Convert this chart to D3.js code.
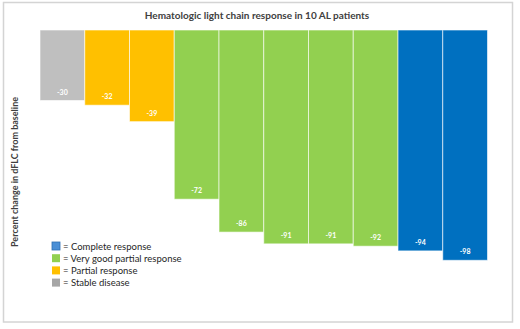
<!DOCTYPE html>
<html><head><meta charset="utf-8">
<script src="https://cdn.jsdelivr.net/npm/d3@7"></script>
<style>body{margin:0;background:#fff}svg{display:block}</style>
</head><body>
<script>
const patients = ["P1","P2","P3","P4","P5","P6","P7","P8","P9","P10"];
const values = [-30, -32, -39, -72, -86, -91, -91, -92, -94, -98];
const responses = ["SD","PR","PR","VGPR","VGPR","VGPR","VGPR","VGPR","CR","CR"];
const legendKeys = ["CR","VGPR","PR","SD"];
const legendLabels = ["= Complete response","= Very good partial response","= Partial response","= Stable disease"];
const barColors = {CR:"#0070c0", VGPR:"#92d050", PR:"#ffc000", SD:"#bfbfbf"};
const legendColors = {CR:"#4a8fd6", VGPR:"#92d050", PR:"#ffc000", SD:"#a6a6a6"};
const titleText = "Hematologic light chain response in 10 AL patients";
const yLabel = "Percent change in dFLC from baseline";

const W = 520, H = 329;
const svg = d3.select("body").append("svg").attr("width", W).attr("height", H);
const font = "Lato, 'Open Sans', sans-serif";

svg.append("rect").attr("x", 3.5).attr("y", 2.5).attr("width", 509).attr("height", 319.5)
  .attr("fill", "#fff").attr("stroke", "#d4d4d4").attr("stroke-width", 1.5);

const x = d3.scaleBand().domain(patients).range([40, 487.5]).paddingInner(0);
const y = d3.scaleLinear().domain([0, -100]).range([30, 265]);

const data = patients.map((p, i) => ({p, v: values[i], r: responses[i]}));

svg.append("g").selectAll("rect").data(data).join("rect")
  .attr("x", d => x(d.p)).attr("y", y(0))
  .attr("width", x.bandwidth()).attr("height", d => y(d.v) - y(0))
  .attr("fill", d => barColors[d.r])
  .attr("stroke", "#fff").attr("stroke-opacity", 0.6).attr("stroke-width", 1);

svg.append("g").selectAll("text").data(data).join("text")
  .attr("x", d => x(d.p) + x.bandwidth() / 2).attr("y", d => y(d.v) - 6)
  .attr("text-anchor", "middle").attr("fill", "#fff")
  .attr("font-family", font).attr("font-size", 7).attr("font-weight", "bold")
  .text(d => d.v);

svg.append("text").attr("x", 257).attr("y", 18.5).attr("text-anchor", "middle")
  .attr("font-family", font).attr("font-size", 10).attr("font-weight", "bold")
  .attr("fill", "#404040").text(titleText);

svg.append("text").attr("transform", "translate(18,172) rotate(-90)")
  .attr("text-anchor", "middle").attr("font-family", font).attr("font-size", 9.5)
  .attr("font-weight", "bold").attr("fill", "#404040")
  .attr("textLength", 150).attr("lengthAdjust", "spacingAndGlyphs").text(yLabel);

const lg = svg.append("g").selectAll("g").data(legendKeys).join("g")
  .attr("transform", (d, i) => `translate(52,${242 + i * 12.2})`);
lg.append("rect").attr("width", 8).attr("height", 8)
  .attr("fill", d => legendColors[d])
  .attr("stroke", d => d === "CR" ? "#2e6fb3" : "none").attr("stroke-width", 0.8);
lg.append("text").attr("x", 11).attr("y", 7.5)
  .attr("font-family", font).attr("font-size", 9.5).attr("fill", "#262626")
  .text((d, i) => legendLabels[i]);
</script>
</body></html>
